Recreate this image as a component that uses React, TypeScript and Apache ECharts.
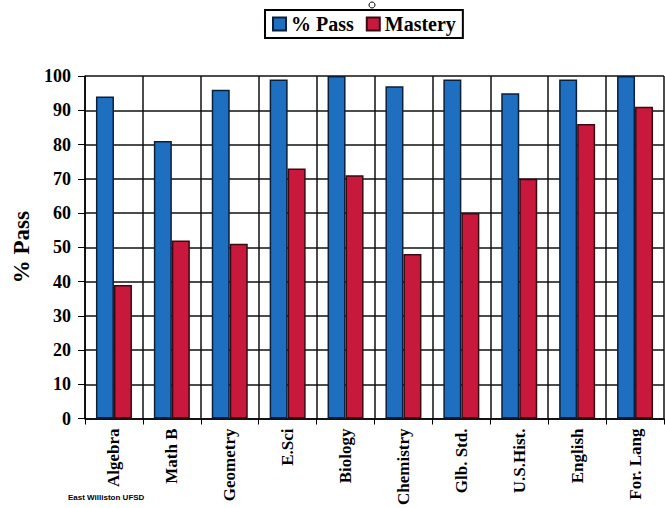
import React, { useEffect, useRef } from "react";
import * as echarts from "echarts";

const categories = ["Algebra", "Math B", "Geometry", "E.Sci", "Biology", "Chemistry", "Glb. Std.", "U.S.Hist.", "English", "For. Lang"];
const passValues = [94, 81, 96, 99, 100, 97, 99, 95, 99, 100];
const masteryValues = [39, 52, 51, 73, 71, 48, 60, 70, 86, 91];
const yTicks = { min: 0, max: 100, interval: 10 };

const serif = "'Liberation Serif', 'Times New Roman', serif";

export default function App() {
  const ref = useRef<HTMLDivElement>(null);
  useEffect(() => {
    if (!ref.current) return;
    const chart = echarts.init(ref.current, undefined, { renderer: "svg" });
    chart.setOption({
      animation: false,
      backgroundColor: "#ffffff",
      legend: {
        top: 10,
        left: 265,
        itemWidth: 13,
        itemHeight: 13,
        itemGap: 12,
        padding: [4, 7, 4, 7],
        borderColor: "#000",
        borderWidth: 2,
        backgroundColor: "#fff",
        textStyle: { fontFamily: serif, fontWeight: "bold", fontSize: 20, color: "#000" },
        data: [
          { name: "% Pass", icon: "rect" },
          { name: "Mastery", icon: "rect" },
        ],
      },
      grid: { left: 85, right: 1, top: 76, bottom: 88, containLabel: false },
      xAxis: {
        type: "category",
        data: categories,
        boundaryGap: true,
        axisLine: { lineStyle: { color: "#000", width: 1.5 } },
        axisTick: { show: true, length: 6, lineStyle: { color: "#000" } },
        splitLine: { show: true, lineStyle: { color: "#111", width: 1.5 } },
        axisLabel: {
          rotate: 90,
          interval: 0,
          margin: 10,
          fontFamily: serif,
          fontWeight: "bold",
          fontSize: 17,
          color: "#000",
        },
      },
      yAxis: {
        type: "value",
        min: yTicks.min,
        max: yTicks.max,
        interval: yTicks.interval,
        name: "% Pass",
        nameLocation: "middle",
        nameGap: 42,
        nameRotate: 90,
        nameTextStyle: { fontFamily: serif, fontWeight: "bold", fontSize: 23, color: "#000" },
        axisLine: { show: true, lineStyle: { color: "#000", width: 1.5 } },
        axisTick: { show: true, length: 7, lineStyle: { color: "#000" } },
        splitLine: { show: true, lineStyle: { color: "#111", width: 1.5 } },
        axisLabel: {
          margin: 14,
          fontFamily: serif,
          fontWeight: "bold",
          fontSize: 18,
          color: "#000",
        },
      },
      series: [
        {
          name: "% Pass",
          type: "bar",
          data: passValues,
          barWidth: 18,
          barGap: "0%",
          itemStyle: { color: "#1f6fc0", borderColor: "#0a1f3a", borderWidth: 1.5 },
        },
        {
          name: "Mastery",
          type: "bar",
          data: masteryValues,
          barWidth: 18,
          itemStyle: { color: "#c8193c", borderColor: "#3a0a12", borderWidth: 1.5 },
        },
      ],
      graphic: [
        {
          type: "circle",
          shape: { cx: 372, cy: 5, r: 3 },
          style: { fill: "#fff", stroke: "#000", lineWidth: 1 },
        },
        {
          type: "text",
          left: 68,
          top: 493,
          style: {
            text: "East Williston UFSD",
            fontFamily: "'Liberation Sans', Arial, sans-serif",
            fontWeight: "bold",
            fontSize: 8,
            fill: "#000",
          },
        },
      ],
    });
    return () => chart.dispose();
  }, []);
  return (
    <div
      ref={ref}
      style={{ position: "absolute", left: 0, top: 0, width: 665, height: 508 }}
    />
  );
}
